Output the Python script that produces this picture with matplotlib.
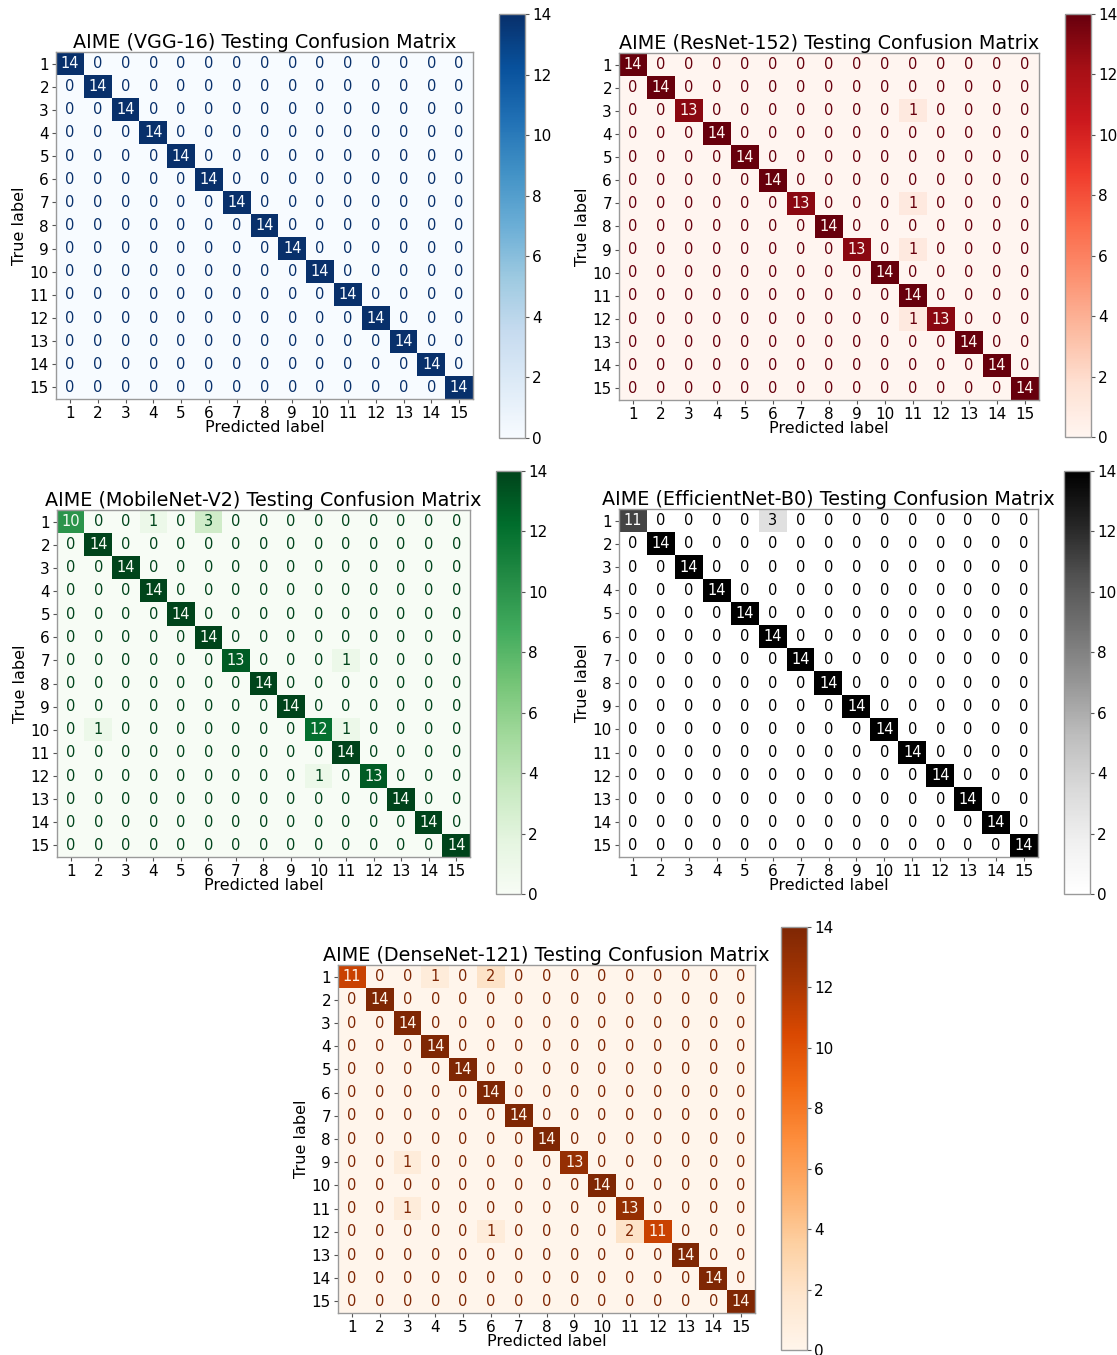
import numpy as np
import matplotlib
matplotlib.use("Agg")
import matplotlib.pyplot as plt

# Class labels shared by every matrix
class_labels = [str(i) for i in range(1, 16)]
n_classes = len(class_labels)

# Off-diagonal confusions per model: (true_row, predicted_col, count), 1-based
vgg16_errors = []
resnet152_errors = [(3, 11, 1), (7, 11, 1), (9, 11, 1), (12, 11, 1)]
mobilenetv2_errors = [(1, 4, 1), (1, 6, 3), (7, 11, 1), (10, 2, 1), (10, 11, 1), (12, 10, 1)]
efficientnetb0_errors = [(1, 6, 3)]
densenet121_errors = [(1, 4, 1), (1, 6, 2), (9, 3, 1), (11, 3, 1), (12, 6, 1), (12, 11, 2)]

# Correct predictions on the diagonal per model
vgg16_diag = [14, 14, 14, 14, 14, 14, 14, 14, 14, 14, 14, 14, 14, 14, 14]
resnet152_diag = [14, 14, 13, 14, 14, 14, 13, 14, 13, 14, 14, 13, 14, 14, 14]
mobilenetv2_diag = [10, 14, 14, 14, 14, 14, 13, 14, 14, 12, 14, 13, 14, 14, 14]
efficientnetb0_diag = [11, 14, 14, 14, 14, 14, 14, 14, 14, 14, 14, 14, 14, 14, 14]
densenet121_diag = [11, 14, 14, 14, 14, 14, 14, 14, 13, 14, 13, 11, 14, 14, 14]

model_names = ["VGG-16", "ResNet-152", "MobileNet-V2", "EfficientNet-B0", "DenseNet-121"]
model_cmaps = ["Blues", "Reds", "Greens", "Greys", "Oranges"]


def build_matrix(diag, errors):
    m = np.zeros((n_classes, n_classes), dtype=int)
    for i, v in enumerate(diag):
        m[i, i] = v
    for r, c, v in errors:
        m[r - 1, c - 1] = v
    return m


matrices = [
    build_matrix(vgg16_diag, vgg16_errors),
    build_matrix(resnet152_diag, resnet152_errors),
    build_matrix(mobilenetv2_diag, mobilenetv2_errors),
    build_matrix(efficientnetb0_diag, efficientnetb0_errors),
    build_matrix(densenet121_diag, densenet121_errors),
]

W, H = 1117, 1355
fig = plt.figure(figsize=(W / 100, H / 100), dpi=100)

# Pixel boxes (left, top, right, bottom) for each matrix and its colorbar
axes_boxes = [
    (56, 52, 473, 399),
    (619, 53, 1039, 400),
    (57, 510, 470, 857),
    (619, 509, 1038, 857),
    (338, 965, 755, 1313),
]
cbar_boxes = [
    (499, 14, 525, 438),
    (1065, 14, 1091, 437),
    (496, 471, 521, 894),
    (1064, 471, 1090, 894),
    (781, 927, 807, 1350),
]


def to_rect(box):
    l, t, r, b = box
    return [l / W, 1 - b / H, (r - l) / W, (b - t) / H]


spine_color = "#9a9a9a"

for mat, name, cmap_name, abox, cbox in zip(matrices, model_names, model_cmaps, axes_boxes, cbar_boxes):
    cmap = plt.get_cmap(cmap_name)
    ax = fig.add_axes(to_rect(abox))
    im = ax.imshow(mat, cmap=cmap, vmin=0, vmax=mat.max(), aspect="auto", interpolation="nearest")

    thresh = (mat.max() + mat.min()) / 2.0
    for i in range(n_classes):
        for j in range(n_classes):
            val = mat[i, j]
            color = cmap(0.0) if val >= thresh else cmap(1.0)
            ax.text(j, i, str(val), ha="center", va="center", color=color, fontsize=10.5)

    ax.set_xticks(range(n_classes))
    ax.set_yticks(range(n_classes))
    ax.set_xticklabels(class_labels)
    ax.set_yticklabels(class_labels)
    ax.tick_params(labelsize=11, length=3, pad=2, color="#555555")
    ax.set_xlabel("Predicted label", fontsize=11.5, labelpad=-1)
    ax.set_ylabel("True label", fontsize=11.5, labelpad=2)
    ax.set_title(f"AIME ({name}) Testing Confusion Matrix", fontsize=13.8, pad=2)
    for s in ax.spines.values():
        s.set_color(spine_color)
        s.set_linewidth(1.0)

    cax = fig.add_axes(to_rect(cbox))
    cb = fig.colorbar(im, cax=cax, ticks=range(0, 15, 2))
    cb.ax.tick_params(labelsize=11, length=3, pad=2, color="#555555")
    cb.outline.set_edgecolor(spine_color)
    cb.outline.set_linewidth(1.0)

fig.savefig("out.png", dpi=100)
